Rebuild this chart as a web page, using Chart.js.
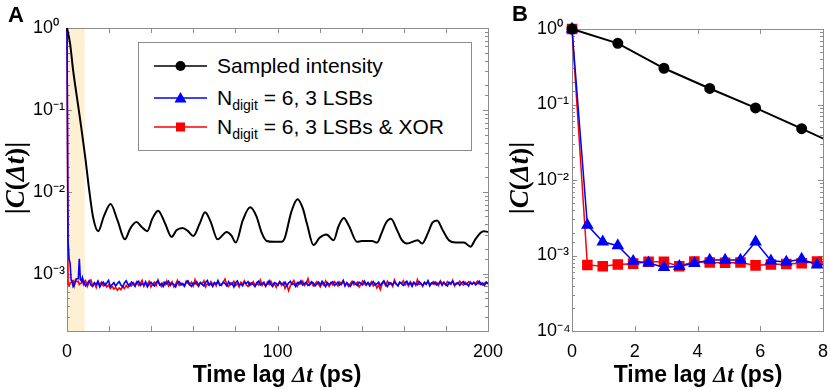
<!DOCTYPE html>
<html>
<head>
<meta charset="utf-8">
<script src="https://cdn.jsdelivr.net/npm/chart.js@4/dist/chart.umd.min.js"></script>
<style>
  html, body { margin:0; padding:0; background:#fff; }
  #wrap { position:relative; width:830px; height:390px; overflow:hidden; background:#fff;
          font-family:"Liberation Sans", Arial, sans-serif; color:#000; }
  .pane { position:absolute; top:0; }
  .lbl { position:absolute; font-weight:bold; white-space:nowrap; }
  .ytitle { position:absolute; white-space:nowrap; font-family:"Liberation Serif", serif; font-weight:bold;
            font-size:27px; transform:translate(-50%,-50%) rotate(-90deg); }
  .xtitle { position:absolute; white-space:nowrap; font-weight:bold; font-size:23px; transform:translateX(-50%); }
  .xtitle i, .ytitle i { font-family:"Liberation Serif", serif; }
  #legend { position:absolute; left:138px; top:42px; width:334px; height:109px; border:1px solid #8c8c8c;
            background:#fff; font-size:21px; box-sizing:border-box; }
  .row { position:absolute; left:0; height:30px; display:flex; align-items:center; }
  .row svg { position:absolute; left:15px; top:0; }
  .row span { position:absolute; left:78px; white-space:nowrap; line-height:30px; top:0; }
  sub { font-size:14px; vertical-align:-5px; line-height:0; }
</style>
</head>
<body>
<div id="wrap">
  <div class="pane" style="left:0;width:530px;height:390px"><canvas id="cA" width="530" height="390"></canvas></div>
  <div class="pane" style="left:500px;width:350px;height:390px"><canvas id="cB" width="350" height="390"></canvas></div>

  <div class="lbl" style="left:8px;top:2px;font-size:22px">A</div>
  <div class="lbl" style="left:512px;top:1px;font-size:22px">B</div>

  <div class="ytitle" style="left:15px;top:178px">|<i>C</i>(<i>Δt</i>)|</div>
  <div class="ytitle" style="left:519px;top:178px">|<i>C</i>(<i>Δt</i>)|</div>

  <div class="xtitle" style="left:277px;top:361px">Time lag <i>Δt</i> (ps)</div>
  <div class="xtitle" style="left:698px;top:361px">Time lag <i>Δt</i> (ps)</div>

  <div id="legend">
    <div class="row" style="top:8px;width:330px">
      <svg width="54" height="30"><line x1="0" y1="15" x2="53" y2="15" stroke="#000" stroke-width="1.5"/><circle cx="26.5" cy="15" r="5" fill="#000"/></svg>
      <span>Sampled intensity</span>
    </div>
    <div class="row" style="top:40px;width:330px">
      <svg width="54" height="30"><line x1="0" y1="15" x2="53" y2="15" stroke="#0000ff" stroke-width="1.5"/><polygon points="26.5,9 32.5,19.5 20.5,19.5" fill="#0000ff"/></svg>
      <span>N<sub>digit</sub> = 6, 3 LSBs</span>
    </div>
    <div class="row" style="top:69px;width:330px">
      <svg width="54" height="30"><line x1="0" y1="15" x2="53" y2="15" stroke="#ff0000" stroke-width="1.5"/><rect x="22" y="10.5" width="9" height="9" fill="#ff0000"/></svg>
      <span>N<sub>digit</sub> = 6, 3 LSBs &amp; XOR</span>
    </div>
  </div>
</div>

<script>
// ---------------- DATA ----------------
// Panel A: sampled intensity autocorrelation (time lag in ps, |C|)
const blackA_t = [0,1.46,2.93,4.39,5.85,7.32,8.78,10.5,12.4,14.8,17.5,20.7,24,27.5,30,33,35.5,38.1,40.5,43.3,
  46.5,49.7,52,54.9,57.5,60,63,65.6,68.3,71.5,75.9,78,80.2,83.5,87,90,92.5,94.9,98,102,
  103.5,106.5,109.5,112,114,117.1,120,123.2,126.7,129,131.5,134,137.8,140,144.9,147.3,149.5,151.5,153.9,156.5,
  159.1,161.5,166.6,168.7,171.5,173.5,175.8,178.5,181.4,184.6,188.6,191.7,194,196.5,198,200];
const blackA_c = [1,0.646,0.302,0.163,0.0902,0.0479,0.0251,0.0107,0.0049,0.00331,0.00501,0.00708,0.00447,0.00263,0.00355,0.00427,0.00372,0.00331,0.00468,0.00589,
  0.00417,0.00282,0.00339,0.00363,0.00331,0.00288,0.00407,0.00562,0.00427,0.00263,0.00324,0.00295,0.0024,0.00447,0.00646,0.00501,0.00316,0.00251,0.00245,0.00245,
  0.00275,0.00562,0.00813,0.00631,0.00407,0.00224,0.00275,0.00302,0.00257,0.0038,0.00479,0.0038,0.00245,0.00251,0.00251,0.0024,0.00316,0.00417,0.00468,0.00355,
  0.00257,0.00234,0.00257,0.00234,0.00316,0.00417,0.00447,0.00339,0.00257,0.0024,0.0024,0.00214,0.00263,0.00316,0.00331,0.00324];

// Panel B sampling (ps) and values
const sampleB_t = [0,0.49,0.98,1.46,1.95,2.44,2.93,3.42,3.90,4.39,4.88,5.37,5.85,6.34,6.83,7.32,7.81,8.29];
const blueB = [1,0.00253,0.00152,0.00135,0.00084,0.00080,0.000695,0.00072,0.00079,0.00087,0.00087,0.00087,0.00152,0.00085,0.00082,0.000895,0.00075,0.00078];
const redB  = [1,0.00075,0.00072,0.00076,0.00078,0.000825,0.000825,0.00072,0.00083,0.00081,0.00080,0.00081,0.00074,0.00076,0.00077,0.00079,0.00083,0.00080];
const blackB_t = [0,1.46,2.93,4.39,5.85,7.32,8.78];
const blackB   = [1,0.646,0.302,0.163,0.0902,0.0479,0.0251];

// Panel A noise floor from 8 ps to 200 ps (evenly spaced), values in units of 1e-4
const blueA_tail_e4 = [
  7.9,7.1,7.6,8.2,7.3,7.0,7.8,7.4,8.1,6.9,7.5,7.9,7.2,7.7,8.3,7.0,7.4,7.8,7.1,7.6,
  8.0,7.3,6.9,7.7,8.2,7.4,7.1,7.9,7.5,7.0,7.8,8.1,7.2,7.6,7.3,8.0,6.9,7.5,7.9,7.4,
  7.1,7.8,8.2,7.3,7.6,7.0,7.9,7.5,8.1,7.2,7.7,7.4,6.9,7.8,8.0,7.3,7.6,7.1,7.9,8.2,
  7.4,7.0,7.7,7.5,8.0,7.2,7.8,7.4,7.1,7.9,8.3,7.3,7.6,7.0,7.8,7.5,8.1,7.2,7.4,7.9,
  7.6,7.1,8.0,7.4,7.7,6.9,7.8,8.2,7.3,7.5,7.1,7.9,7.6,8.0,7.2,7.7,7.4,7.0,7.8,8.1,
  7.3,7.6,7.9,7.1,7.5,8.2,7.4,7.0,7.8,7.6,7.2,8.0,7.5,7.3,7.9,7.1,7.7,8.1,7.4,7.6,
  7.0,7.8,7.5,8.2,7.3,7.6,7.9,7.2,7.4,8.0,7.7,7.1,7.5,7.9,7.3,8.1,7.6,7.0,7.8,7.4,
  7.7,8.0,7.2,7.5,7.9,7.3,7.6,8.2,7.1,7.8,7.4,7.0,7.7,8.0,7.5,7.2,7.9,7.6,7.3,8.1,
  7.4,7.8,7.1,7.6,8.0,7.3,7.5,7.9,7.2,7.7,8.2,7.4,7.0,7.8,7.6,7.3,8.0,7.5,7.1,7.9,
  7.6,7.2,7.8,8.1,7.4,7.7,7.0,7.9,7.5,7.3,8.0,7.6,7.2,7.8,7.4,8.2,7.1,7.7,7.5,7.9,
  7.3,7.6,8.0,7.2,7.8,7.4,7.1,7.9,7.6,8.1,7.3,7.5,7.8,7.2,7.7,8.0,7.4,7.6,7.1,7.9,
  7.5,7.8,7.3,7.6,8.1,7.4,7.7,7.2,7.9,7.5];
const redA_tail_e4 = [
  7.5,8.2,7.0,7.9,8.4,7.2,7.7,6.8,8.1,7.4,7.9,7.1,7.6,6.9,7.3,6.6,7.0,6.5,6.8,6.3,
  6.7,6.4,7.0,6.6,7.2,6.8,7.5,7.1,7.8,7.3,8.0,7.2,7.6,8.3,7.0,7.7,7.4,8.1,6.9,7.5,
  7.9,7.2,8.4,7.4,7.0,7.8,7.3,8.2,7.1,7.6,8.0,6.9,7.5,8.3,7.2,7.7,7.4,7.0,8.1,7.6,
  7.3,7.9,7.1,8.5,7.4,7.0,7.8,7.5,8.2,6.9,7.6,7.2,8.0,7.4,7.7,7.1,8.3,7.5,7.2,7.9,
  8.6,7.3,7.0,7.7,7.4,8.1,7.2,7.6,6.9,7.9,7.5,8.2,7.3,7.0,7.8,7.4,8.0,7.1,7.6,7.3,
  8.4,7.2,7.7,7.0,7.9,7.4,8.1,7.3,7.6,6.8,7.5,8.0,7.2,7.8,6.6,7.4,6.2,7.1,7.7,8.3,
  7.4,7.0,7.9,7.5,8.1,7.2,7.6,8.7,7.3,7.8,7.1,7.5,8.0,7.4,6.9,7.7,7.2,8.2,7.5,7.0,
  7.8,7.3,8.0,7.6,7.1,7.9,7.4,8.3,7.2,7.7,7.0,7.6,8.1,7.3,7.5,7.9,6.9,7.4,8.2,7.6,
  7.2,7.8,7.4,8.0,7.1,7.6,6.7,7.3,6.4,7.5,7.9,7.2,8.1,7.4,7.7,7.0,8.4,7.5,7.2,7.9,
  7.6,8.2,7.3,7.7,7.1,8.0,7.5,7.8,7.2,8.5,7.4,7.6,7.0,7.9,7.5,8.1,7.3,7.7,8.0,7.4,
  7.8,7.2,8.2,7.5,7.9,7.3,8.0,7.6,7.4,8.3,7.1,7.7,7.5,8.1,7.6,7.3,7.9,7.5,8.0,7.7,
  7.4,7.9,7.6,8.1,7.5,7.8,7.3,7.7,7.9,7.6];
const tailStart = 8, tailEnd = 200;
const shadeRange = [0, 8.4];
const xTickLabelsA = [0, 100, 200];
const yPowers = {'0':'10⁰','-1':'10⁻¹','-2':'10⁻²','-3':'10⁻³','-4':'10⁻⁴'};

// ---------------- BUILD ----------------
const pts = (t, v) => t.map((x, i) => ({x, y: v[i]}));
function tail(arr) {
  const n = arr.length;
  return arr.map((v, i) => ({x: tailStart + i * (tailEnd - tailStart) / (n - 1), y: v * 1e-4}));
}
const early = (v) => sampleB_t.map((x, i) => ({x, y: v[i]})).filter(p => p.x < tailStart);
const blueA = early(blueB).concat(tail(blueA_tail_e4));
const redA  = early(redB).concat(tail(redA_tail_e4));

Chart.defaults.font.family = '"Liberation Sans", Arial, sans-serif';
Chart.defaults.color = '#000';
const FRAME = '#8c8c8c';

function isPow10(v) { const l = Math.log10(v); return Math.abs(l - Math.round(l)) < 1e-6; }

const framePlugin = {
  id: 'frame',
  beforeDatasetsDraw(chart, args, opts) {
    const {ctx, chartArea: a, scales: {x, y}} = chart;
    ctx.save();
    if (opts.shade) {
      const x0 = x.getPixelForValue(opts.shade[0]), x1 = x.getPixelForValue(opts.shade[1]);
      ctx.fillStyle = '#FDF0D3';
      ctx.fillRect(x0, a.top, x1 - x0, a.bottom - a.top);
    }
    ctx.strokeStyle = FRAME; ctx.lineWidth = 1;
    ctx.beginPath();
    x.ticks.forEach(t => {
      const p = Math.round(x.getPixelForValue(t.value)) + 0.5;
      ctx.moveTo(p, a.bottom); ctx.lineTo(p, a.bottom - 5);
      ctx.moveTo(p, a.top); ctx.lineTo(p, a.top + 5);
    });
    y.ticks.forEach(t => {
      const len = isPow10(t.value) ? 5 : 3;
      const p = Math.round(y.getPixelForValue(t.value)) + 0.5;
      ctx.moveTo(a.left, p); ctx.lineTo(a.left + len, p);
      ctx.moveTo(a.right, p); ctx.lineTo(a.right - len, p);
    });
    ctx.stroke();
    ctx.strokeRect(Math.round(a.left) + 0.5, Math.round(a.top) + 0.5, Math.round(a.right - a.left), Math.round(a.bottom - a.top));
    ctx.restore();
  }
};

function yAxis(min, width) {
  return {
    type: 'logarithmic', min, max: 1,
    grid: {display: false, drawTicks: false},
    border: {display: false},
    afterFit: s => { s.width = width; },
    ticks: {
      autoSkip: false, crossAlign: 'far', font: {size: 18}, color: '#000',
      callback: v => isPow10(v) ? yPowers[String(Math.round(Math.log10(v)))] : ''
    }
  };
}
function xAxis(max, step, labels) {
  return {
    type: 'linear', min: 0, max,
    grid: {display: false, drawTicks: false},
    border: {display: false},
    afterFit: s => { s.height = 59; },
    ticks: {
      stepSize: step, autoSkip: false, padding: 10, font: {size: 18}, color: '#000', maxRotation: 0,
      callback: v => (labels === null || labels.includes(v)) ? String(v) : ''
    }
  };
}
const clipA = {left: 3, top: 3, right: 0, bottom: 0};
const clipB = {left: 10, top: 10, right: 0, bottom: 0};

new Chart(document.getElementById('cA'), {
  type: 'line',
  data: {
    datasets: [
      {label: 'Sampled intensity', data: pts(blackA_t, blackA_c), borderColor: '#000', borderWidth: 2,
       pointRadius: 0, cubicInterpolationMode: 'monotone', clip: clipA},
      {label: 'Ndigit = 6, 3 LSBs', data: blueA, borderColor: '#0000ff', borderWidth: 1.6, pointRadius: 0, clip: clipA},
      {label: 'Ndigit = 6, 3 LSBs & XOR', data: redA, borderColor: '#ff0000', borderWidth: 1.6, pointRadius: 0, clip: clipA}
    ]
  },
  options: {
    responsive: false, animation: false, devicePixelRatio: 1,
    layout: {padding: {left: 33, top: 28, right: 42, bottom: 0}},
    plugins: {legend: {display: false}, tooltip: {enabled: false}, frame: {shade: shadeRange}},
    scales: {x: xAxis(200, 20, xTickLabelsA), y: yAxis(0.0002, 34)}
  },
  plugins: [framePlugin]
});

new Chart(document.getElementById('cB'), {
  type: 'line',
  data: {
    datasets: [
      {label: 'Sampled intensity', data: pts(blackB_t, blackB), borderColor: '#000', backgroundColor: '#000',
       borderWidth: 2, pointStyle: 'circle', pointRadius: 4.5, clip: clipB},
      {label: 'Ndigit = 6, 3 LSBs', data: pts(sampleB_t, blueB), borderColor: '#0000ff', backgroundColor: '#0000ff',
       borderWidth: 1.5, pointStyle: 'triangle', pointRadius: 5.8, clip: clipB},
      {label: 'Ndigit = 6, 3 LSBs & XOR', data: pts(sampleB_t, redB), borderColor: '#ff0000', backgroundColor: '#ff0000',
       borderWidth: 1.5, pointStyle: 'rect', pointRadius: 6.4, clip: clipB}
    ]
  },
  options: {
    responsive: false, animation: false, devicePixelRatio: 1,
    layout: {padding: {left: 37, top: 29, right: 27, bottom: 0}},
    plugins: {legend: {display: false}, tooltip: {enabled: false}, frame: {}},
    scales: {x: xAxis(8, 2, null), y: yAxis(0.0001, 35)}
  },
  plugins: [framePlugin]
});
</script>
</body>
</html>
